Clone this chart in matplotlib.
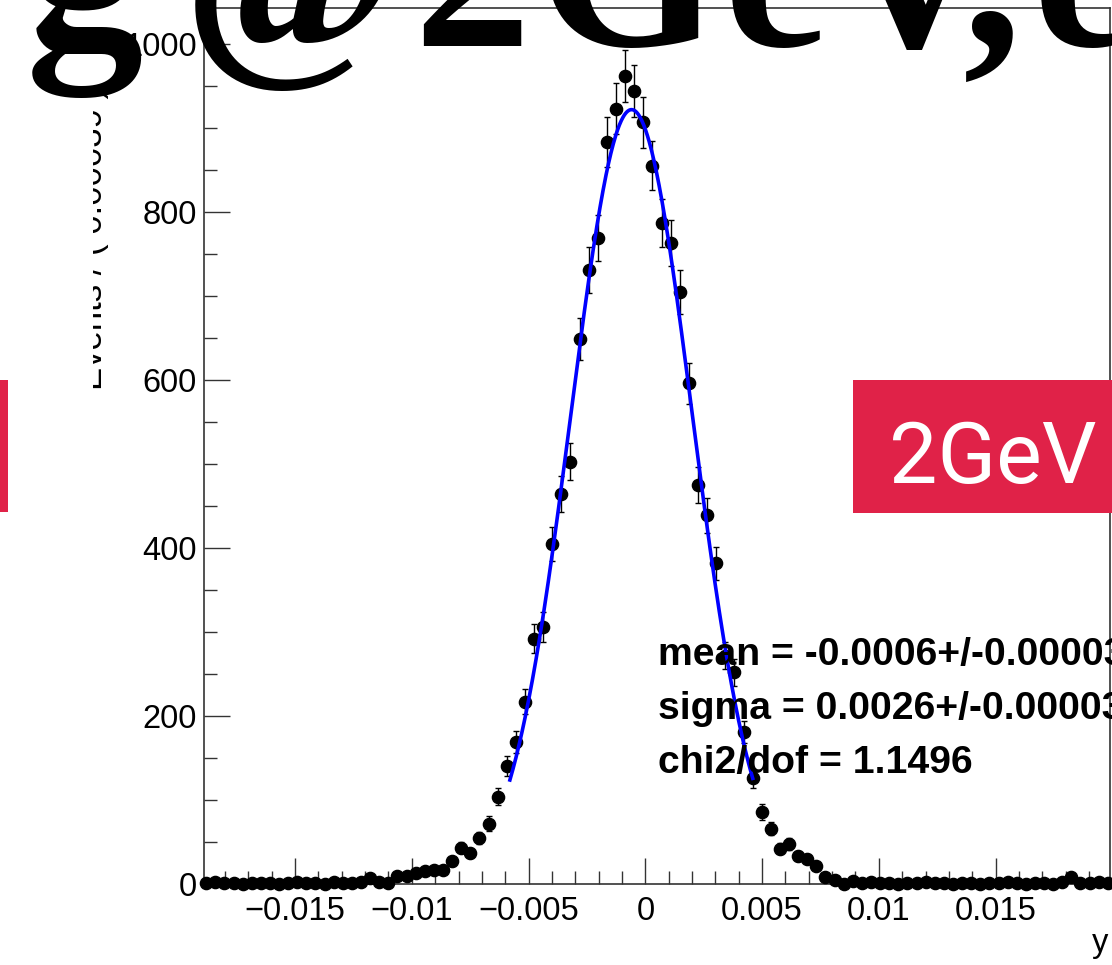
import numpy as np
import matplotlib
matplotlib.use("Agg")
import matplotlib.pyplot as plt
from matplotlib.transforms import Bbox
from matplotlib.patches import Rectangle
from matplotlib.ticker import FixedLocator, FixedFormatter, MultipleLocator

plt.rcParams['font.family'] = ['Liberation Sans', 'DejaVu Sans']

# ---------------- data ----------------
x_low, x_high = -0.019, 0.020
n_bins = 100
counts = [
    1, 2, 1, 1, 0, 1, 1, 1, 0, 1, 2, 1, 1, 0, 2, 1, 1, 2, 7, 2,
    1, 10, 9, 13, 16, 17, 17, 27, 43, 37, 55, 72, 104, 141, 169, 217, 292, 306, 405, 464,
    503, 649, 731, 769, 883, 923, 962, 944, 907, 855, 787, 763, 705, 596, 475, 439, 382, 272, 252, 181,
    126, 86, 66, 42, 48, 33, 30, 22, 8, 5, 0, 4, 1, 2, 1, 1, 0, 1, 1, 2,
    1, 1, 0, 1, 1, 0, 1, 1, 2, 1, 0, 1, 1, 0, 2, 8, 1, 1, 2, 1,
]
fit_amp = 922.0
fit_mean = -0.00059
fit_sigma = 0.0026
fit_lo, fit_hi = -0.0058, 0.0046
stats_lines = ["mean = -0.0006+/-0.00003",
               "sigma = 0.0026+/-0.00003",
               "chi2/dof = 1.1496"]
xticks = [-0.015, -0.01, -0.005, 0.0, 0.005, 0.01, 0.015]
xtick_labels = ["\u22120.015", "\u22120.01", "\u22120.005", "0", "0.005", "0.01", "0.015"]
yticks = [0, 200, 400, 600, 800, 1000]
ytick_labels = ["0", "200", "400", "600", "800", "1000"]
y_max = 1043
x_title = "y"
y_title = "Events / ( 0.00039 )"
overlay_chars = ["g", "@", "2", "G", "e", "V", ",", "e"]
overlay_centers_px = [84, 292, 472, 628, 776, 913, 992, 1085]
badge_text = "2GeV"

# ---------------- figure ----------------
W, H = 1112, 965
fig = plt.figure(figsize=(W / 100, H / 100), dpi=100)
fig.patch.set_facecolor("white")

def fx(px):
    return px / W

def fy(py):
    return 1 - py / H

ax = fig.add_axes([fx(204), fy(884), fx(1110) - fx(204), fy(8) - fy(884)])

edges = np.linspace(x_low, x_high, n_bins + 1)
centers = 0.5 * (edges[:-1] + edges[1:])
vals = np.array(counts, dtype=float)
errs = np.sqrt(vals)

ax.errorbar(centers, vals, yerr=errs, fmt="o", color="black", ms=8.8,
            elinewidth=1.0, capsize=2.4, capthick=1.0, zorder=3, clip_on=False)

xs = np.linspace(fit_lo, fit_hi, 400)
ys = fit_amp * np.exp(-0.5 * ((xs - fit_mean) / fit_sigma) ** 2)
ax.plot(xs, ys, color="#0000FF", lw=2.6, zorder=4)

ax.set_xlim(x_low + 0.0001, x_high - 0.0001)
ax.set_ylim(0, y_max)

ax.xaxis.set_major_locator(FixedLocator(xticks))
ax.xaxis.set_major_formatter(FixedFormatter(xtick_labels))
ax.xaxis.set_minor_locator(MultipleLocator(0.001))
ax.yaxis.set_major_locator(FixedLocator(yticks))
ax.yaxis.set_major_formatter(FixedFormatter(ytick_labels))
ax.yaxis.set_minor_locator(MultipleLocator(50))

ax.tick_params(axis="x", which="major", direction="in", length=18.7, width=1.0,
               labelsize=23.5, pad=9.0, color="#333333")
ax.tick_params(axis="x", which="minor", direction="in", length=9.4, width=1.0, color="#333333")
ax.tick_params(axis="y", which="major", direction="in", length=18.7, width=1.0,
               labelsize=23.5, pad=5.0, color="#333333")
ax.tick_params(axis="y", which="minor", direction="in", length=9.4, width=1.0, color="#333333")
for s in ax.spines.values():
    s.set_linewidth(1.2)
    s.set_color("#333333")

# axis titles
fig.text(fx(1108), fy(952), x_title, ha="right", va="baseline", fontsize=23.5)
yl = fig.text(fx(102), fy(390), y_title, rotation=90, rotation_mode="anchor",
              ha="left", va="baseline", fontsize=25)
yl.set_clip_on(True)
yl.set_clip_box(Bbox.from_extents(92.5, 0, 300, H))

# fit statistics
for line, base in zip(stats_lines, [665, 719, 773]):
    fig.text(fx(658), fy(base), line, ha="left", va="baseline", fontsize=28.2,
             fontweight="bold", zorder=6)

# overlay banner text (cut off at top)
for ch, cx in zip(overlay_chars, overlay_centers_px):
    fig.text(fx(cx), fy(46), ch, ha="center", va="baseline", fontsize=169,
             fontweight="bold", family=["Liberation Serif", "DejaVu Serif"],
             color="black", zorder=7)

# red badges
red = "#E02248"
fig.add_artist(Rectangle((0, fy(512)), fx(8), fy(380) - fy(512),
                         transform=fig.transFigure, facecolor=red, edgecolor="none", zorder=8))
fig.add_artist(Rectangle((fx(853), fy(513)), fx(W) - fx(853), fy(380) - fy(513),
                         transform=fig.transFigure, facecolor=red, edgecolor="none", zorder=8))
fig.text(fx(889), fy(483), badge_text, ha="left", va="baseline", fontsize=62,
         color="white", family=["Roboto", "DejaVu Sans"], fontweight="normal", zorder=9)

fig.savefig("out.png", dpi=100)
